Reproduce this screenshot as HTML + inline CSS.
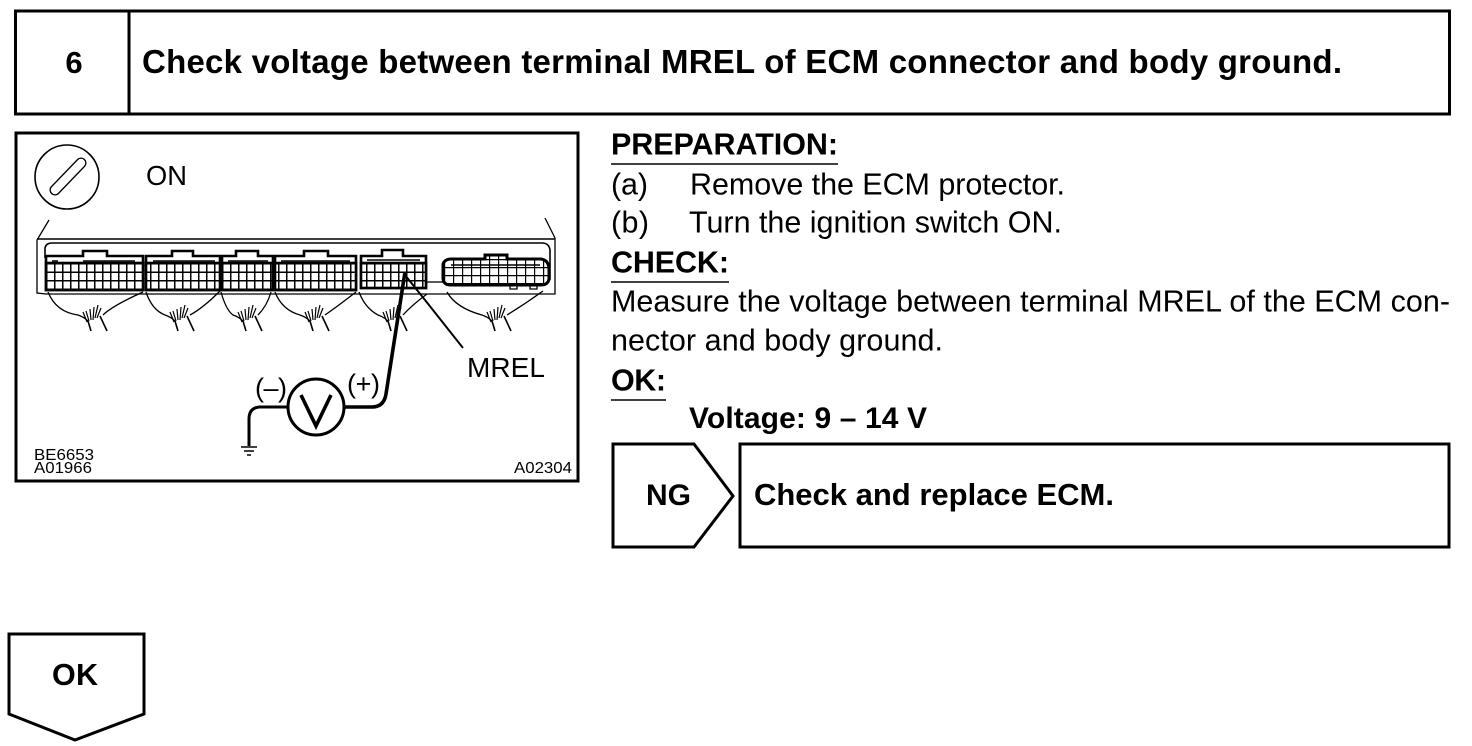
<!DOCTYPE html>
<html><head><meta charset="utf-8"><style>
html,body{margin:0;padding:0;background:#fff}
svg{display:block}
text{font-family:"Liberation Sans",sans-serif;fill:#000}
.b{font-weight:bold}
</style></head><body>
<svg width="1472" height="746" viewBox="0 0 1472 746" xmlns="http://www.w3.org/2000/svg">
<defs>
<pattern id="g" x="46" y="263" width="8" height="8.5" patternUnits="userSpaceOnUse">
<rect width="8" height="8.5" fill="#fff"/><path d="M0 0H8M0 0V8.5" stroke="#000" stroke-width="3"/>
</pattern>
<pattern id="h" x="444" y="267" width="9" height="8" patternUnits="userSpaceOnUse">
<rect width="9" height="8" fill="#fff"/><path d="M0 0H9M0 0V8" stroke="#000" stroke-width="2.4"/>
</pattern>
<g id="w" fill="none" stroke="#000" stroke-width="1.3">
<path d="M88 321L91 331M100 316L107 331" stroke-width="1.6"/>
<path d="M87 322L83 312M89 321L86 311M91 320L90 309M93 320L94 307M95 318L98 305M97 318L101 308" stroke-width="1.2"/>
</g>
</defs>
<g fill="none" stroke="#000">
<rect x="15.5" y="11" width="1434" height="103" stroke-width="3"/>
<path d="M129 11V114" stroke-width="3"/>
<rect x="16" y="133" width="562" height="348" stroke-width="3"/>
<path d="M613 444H694L733 496L694 547H613Z" stroke-width="3"/>
<rect x="740" y="444" width="709" height="103" stroke-width="3"/>
<path d="M9 634H144V714L75 740L9 714Z" stroke-width="3"/>
<path d="M611 164H838M611 282H729M611 400H666" stroke-width="1.6"/>
<circle cx="67" cy="177" r="32" stroke-width="1.6"/>
<path d="M55 190L81 163" stroke="#000" stroke-width="11" stroke-linecap="round"/>
<path d="M55 190L81 163" stroke="#fff" stroke-width="8.4" stroke-linecap="round"/>
<path d="M49 220L37 240V293L46 294H555V238L545 218" stroke-width="1.3"/>
<path d="M37 239H555" stroke-width="1.6"/>
<path d="M45 258V248Q46 243 52 243H542Q549 243 550 250V280" stroke-width="1.6"/>
</g>
<g stroke="#000" stroke-width="2.6">
<path d="M46 256H83V251H107V256H143V290H46Z" fill="#fff"/>
<rect x="46" y="263" width="97" height="27" fill="url(#g)"/>
<path d="M146 256H172V251H193V256H220V290H146Z" fill="#fff"/>
<rect x="146" y="263" width="74" height="27" fill="url(#g)"/>
<path d="M222 256H236V251H258V256H273V290H222Z" fill="#fff"/>
<rect x="222" y="263" width="51" height="27" fill="url(#g)"/>
<path d="M275 256H304V251H328V256H356V290H275Z" fill="#fff"/>
<rect x="275" y="263" width="81" height="27" fill="url(#g)"/>
<path d="M361 256H382V250H403V256H426V288H361Z" fill="#fff"/>
<rect x="361" y="263" width="65" height="25" fill="url(#g)"/>
<path d="M443 264Q445 259 451 259H485V255H507V259H541Q549 260 549 270V279Q548 285 541 285H451Q443 285 443 278Z" fill="url(#h)" stroke-width="3"/>
</g>
<g fill="none" stroke="#000" stroke-width="1.3">
<path d="M83 261H135M52 261H58" stroke-width="1.6"/>
<path d="M153 261H215M228 261H268M281 261H350M367 260H420M451 265H540" stroke-width="1.6"/>
<path d="M427 282H443" stroke-width="1.3"/>
<path d="M510 286V289H517V286M530 286V289H537V286" stroke-width="1.3"/>
<path d="M48 292Q56 312 78 315Q84 317 88 321M103 315Q112 306 143 292"/>
<path d="M146 292Q152 310 165 315Q171 317 175 321M190 315Q203 308 220 291"/>
<path d="M221 292Q226 310 233 315Q239 317 243 321M258 315Q267 306 271 292"/>
<path d="M275 292Q282 310 300 315Q306 317 310 321M325 315Q338 306 356 292"/>
<path d="M359 292Q365 308 378 315Q384 317 388 321M403 315Q412 305 427 294"/>
<path d="M447 292Q456 308 482 315Q488 317 492 321M507 315Q525 304 543 291"/>
<path d="M405 275L425 300L463 348" stroke-width="2"/>
<path d="M405 272L386 394Q384 407 372 407H345" stroke-width="3.6"/>
<path d="M287 407H259Q249 408 249 419V446" stroke-width="3"/>
<path d="M241 447H257M244 451H254M247 455H251" stroke-width="1.6"/>
<circle cx="316" cy="407" r="28" stroke-width="3"/>
<path d="M301 395L316 426L331 395" stroke-width="3.6"/>
</g>
<use href="#w"/>
<use href="#w" x="87"/>
<use href="#w" x="155"/>
<use href="#w" x="222"/>
<use href="#w" x="300"/>
<use href="#w" x="404"/>
<text x="74" y="73" font-size="31" class="b" text-anchor="middle">6</text>
<text x="142" y="73" font-size="33" class="b" textLength="1200" lengthAdjust="spacing">Check voltage between terminal MREL of ECM connector and body ground.</text>
<text x="146" y="185" font-size="27.3" textLength="41">ON</text>
<text x="467" y="377" font-size="28" textLength="78">MREL</text>
<text x="255" y="397" font-size="27" textLength="32">(–)</text>
<text x="347" y="393" font-size="27" textLength="33">(+)</text>
<text x="34" y="460" font-size="16" textLength="60" lengthAdjust="spacingAndGlyphs">BE6653</text>
<text x="34" y="473" font-size="16" textLength="58" lengthAdjust="spacingAndGlyphs">A01966</text>
<text x="514" y="473" font-size="16" textLength="58" lengthAdjust="spacingAndGlyphs">A02304</text>
<text x="611" y="154.5" font-size="30.5" class="b" textLength="227">PREPARATION:</text>
<text x="611" y="194.5" font-size="30.5" textLength="37">(a)</text>
<text x="690" y="194.5" font-size="30.5" textLength="375">Remove the ECM protector.</text>
<text x="611" y="232.5" font-size="30.5" textLength="38">(b)</text>
<text x="689" y="232.5" font-size="30.5" textLength="373">Turn the ignition switch ON.</text>
<text x="611" y="272.5" font-size="30.5" class="b" textLength="118">CHECK:</text>
<text x="611" y="311.5" font-size="30.5" textLength="839">Measure the voltage between terminal MREL of the ECM con-</text>
<text x="611" y="350.5" font-size="30.5" textLength="332">nector and body ground.</text>
<text x="611" y="390.5" font-size="30.5" class="b" textLength="55">OK:</text>
<text x="689" y="428" font-size="30" class="b" textLength="238">Voltage: 9 – 14 V</text>
<text x="646" y="505" font-size="30" class="b" textLength="45">NG</text>
<text x="754" y="505" font-size="31" class="b" textLength="360">Check and replace ECM.</text>
<text x="52" y="685" font-size="30.5" class="b" textLength="46">OK</text>
</svg>
</body></html>
